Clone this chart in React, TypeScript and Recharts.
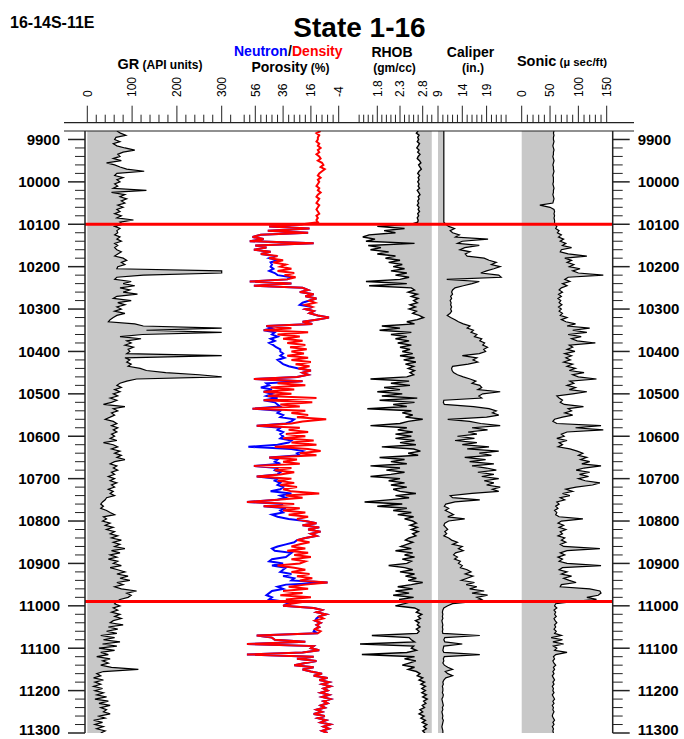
import { ComposedChart, Area, Line, XAxis, YAxis, ReferenceLine } from 'recharts';

const FONT = '"Liberation Sans", Arial, Helvetica, sans-serif';

// depth grid (ft), 5 ft sampling from 9880 to 11300
const TOP_DEPTH = 9880;
const BASE_DEPTH = 11300;
const STEP = 5;
const DEPTHS = Array.from({ length: (BASE_DEPTH - TOP_DEPTH) / STEP + 1 }, (_, i) => TOP_DEPTH + i * STEP);

// gamma ray, API units
const GR = [
  66, 74, 86, 64, // 9880
  61, 73, 58, 66, 84, 106, 80, 68, 73, 58, 76, 43, 61, 73, 88, 127, 66, 61, 80, 66, // 9900
  73, 61, 68, 58, 132, 54, 84, 73, 88, 76, 84, 68, 80, 66, 73, 61, 76, 66, 103, 73, // 10000
  80, 61, 73, 66, 68, 61, 73, 66, 76, 61, 68, 61, 66, 76, 68, 61, 80, 88, 76, 84, // 10100
  68, 66, 300, 300, 125, 66, 61, 98, 80, 106, 73, 95, 80, 112, 66, 58, 98, 68, 84, 66, // 10200
  76, 61, 84, 66, 58, 51, 47, 106, 125, 300, 132, 300, 123, 73, 120, 88, 98, 84, 103, 91, // 10300
  95, 88, 300, 84, 95, 88, 98, 91, 118, 132, 175, 250, 300, 110, 88, 73, 66, 76, 61, 73, // 10400
  58, 68, 51, 66, 54, 36, 84, 58, 68, 54, 61, 51, 40, 58, 66, 54, 68, 58, 66, 54, // 10500
  61, 51, 66, 36, 58, 68, 54, 73, 61, 76, 66, 84, 61, 51, 66, 58, 68, 54, 61, 47, // 10600
  61, 51, 66, 54, 61, 47, 58, 51, 61, 43, 40, 34, 30, 36, 30, 43, 51, 61, 36, 43, // 10700
  34, 51, 40, 58, 43, 61, 51, 68, 54, 76, 58, 73, 61, 84, 54, 73, 51, 66, 47, 68, // 10800
  58, 76, 51, 68, 84, 66, 91, 73, 95, 66, 80, 61, 76, 110, 88, 98, 91, 73, 66, 61, // 10900
  73, 58, 68, 54, 73, 61, 76, 58, 51, 80, 47, 68, 43, 66, 30, 61, 36, 73, 34, 66, // 11000
  26, 61, 30, 47, 21, 51, 34, 47, 30, 54, 114, 36, 21, 30, 14, 36, 17, 30, 14, 34, // 11100
  17, 36, 21, 43, 17, 47, 26, 51, 30, 43, 36, 51, 26, 40, 14, 34, 17, 36, 21, 40, // 11200
  30, // 11300
];

// neutron porosity, %
const NPHI = [
  null, null, null, null, // 9880
  null, null, null, null, null, null, null, null, null, null, null, null, null, null, null, null, null, null, null, null, // 9900
  null, null, null, null, null, null, null, null, null, null, null, null, null, null, null, null, null, null, null, null, // 10000
  22, 46, 17, 47, 18, 52, 58, 50, 60, 14, 56, 48, 57, 45, 52, 42, 46, 40, 45, 44, // 10100
  45, 43, 46, 42, 40, 30, 33, 60, 30, 57, 22, 18, 24, 14, 20, 12, 17, 22, 24, 15, // 10200
  20, 14, 17, 11, 3, 12, 22, 15, 48, 44, 50, 42, 44, 40, 45, 42, 46, 43, 41, 38, // 10300
  38, 36, 38, 35, 40, 38, 36, 32, 25, 16, 22, 18, 26, 57, 22, 48, 46, 52, 44, 50, // 10400
  44, 48, 40, 50, 42, 40, 38, 58, 38, 40, 36, 38, 28, 30, 34, 55, 38, 40, 36, 38, // 10500
  36, 38, 30, 32, 40, 61, 30, 22, 26, 24, 46, 40, 42, 38, 57, 40, 42, 38, 40, 55, // 10600
  40, 42, 38, 40, 36, 38, 45, 30, 38, 34, 40, 62, 36, 50, 34, 38, 36, 44, 40, 32, // 10700
  20, 12, 22, 10, 18, 9, 16, 12, 20, 26, 28, 34, 40, 44, 42, 30, 32, 34, 44, 46, // 10800
  36, 44, 34, 36, 38, 30, 36, 28, 30, 4, 34, 40, 36, 44, 46, 48, 44, 46, 36, 32, // 10900
  36, 14, 8, 12, 5, 10, 12, 13, 9, 12, 10, 13, 14, 11, 55, 44, 42, 20, 62, 14, // 11000
  16, 10, 22, 62, 14, 26, 12, 20, 28, 14, 22, 16, 8, 14, 4, 10, 3, 8, 2, 7, // 11100
  4, 9, 3, 8, 2, 7, 4, 9, 6, 12, 8, 14, 6, 11, 5, 9, 2, 7, 3, 8, // 11200
  4, // 11300
];

// density porosity, %
const DPHI = [
  9, 12, 10, 11, // 9880
  11, 12, 10, 11, 9, 11, 10, 12, 10, 9, 11, 8, 7, 9, 6, 8, 10, 11, 9, 11, // 9900
  10, 11, 12, 10, 11, 9, 11, 12, 10, 11, 12, 10, 11, 12, 11, 10, 12, 11, 12, 11, // 10000
  22, 46, 17, 47, 18, 52, 58, 50, 60, 14, 56, 48, 57, 45, 52, 40, 46, 36, 43, 34, // 10100
  38, 30, 40, 28, 35, 27, 33, 60, 30, 57, 22, 18, 24, 14, 20, 12, 17, 13, 20, 15, // 10200
  20, 14, 17, 11, 3, 12, 22, 15, 48, 30, 50, 18, 40, 24, 36, 22, 33, 20, 31, 19, // 10300
  30, 21, 33, 18, 30, 16, 27, 17, 25, 16, 22, 18, 26, 57, 22, 40, 20, 45, 28, 50, // 10400
  30, 47, 12, 50, 15, 38, 24, 58, 20, 30, 18, 26, 5, 22, 30, 55, 24, 32, 18, 34, // 10500
  20, 36, 14, 30, 12, 42, 18, 9, 24, 12, 46, 26, 36, 24, 57, 30, 42, 28, 38, 55, // 10600
  30, 40, 28, 38, 26, 36, 30, 10, 34, 22, 40, 62, 28, 50, 24, 36, 20, 32, 18, 26, // 10700
  20, 12, 22, 10, 18, 9, 16, 12, 20, 26, 17, 24, 30, 20, 33, 18, 28, 16, 30, 20, // 10800
  24, 40, 28, 20, 30, 17, 26, 15, 24, 4, 20, 32, 18, 36, 22, 38, 16, 34, 20, 30, // 10900
  36, 14, 8, 12, 5, 10, 7, 13, 9, 12, 10, 13, 9, 11, 55, 44, 42, 20, 62, 14, // 11000
  16, 10, 22, 62, 14, 26, 12, 20, 28, 14, 22, 16, 8, 14, 4, 10, 3, 8, 2, 7, // 11100
  4, 9, 3, 8, 2, 7, 4, 9, 6, 12, 8, 14, 6, 11, 5, 9, 2, 7, 3, 8, // 11200
  4, // 11300
];

// bulk density, gm/cc
const RHOB = [
  2.70, 2.66, 2.72, 2.69, // 9880
  2.71, 2.68, 2.73, 2.70, 2.67, 2.72, 2.69, 2.74, 2.70, 2.68, 2.73, 2.76, 2.71, 2.74, 2.77, 2.72, 2.69, 2.73, 2.70, 2.72, // 9900
  2.69, 2.72, 2.70, 2.73, 2.68, 2.71, 2.74, 2.70, 2.72, 2.69, 2.71, 2.68, 2.72, 2.70, 2.73, 2.69, 2.71, 2.68, 2.70, 2.69, // 10000
  2.55, 1.80, 2.40, 1.95, 2.20, 1.62, 1.48, 1.75, 1.55, 2.62, 1.60, 1.88, 1.65, 2.05, 1.80, 2.20, 1.98, 2.30, 2.05, 2.35, // 10100
  2.15, 2.40, 2.10, 2.45, 2.20, 2.50, 2.30, 1.55, 2.45, 1.62, 2.55, 2.62, 2.48, 2.68, 2.55, 2.70, 2.60, 2.68, 2.52, 2.64, // 10200
  2.50, 2.66, 2.58, 2.72, 2.82, 2.68, 2.45, 2.62, 1.90, 2.30, 1.85, 2.55, 2.10, 2.45, 2.20, 2.50, 2.25, 2.55, 2.30, 2.52, // 10300
  2.35, 2.58, 2.30, 2.62, 2.38, 2.65, 2.42, 2.60, 2.48, 2.62, 2.52, 2.60, 2.45, 1.65, 2.50, 2.10, 2.52, 1.95, 2.30, 1.80, // 10400
  2.35, 1.90, 2.68, 1.85, 2.62, 2.15, 2.45, 1.58, 2.55, 2.35, 2.58, 2.42, 2.80, 2.48, 2.30, 1.65, 2.45, 2.25, 2.58, 2.20, // 10500
  2.55, 2.20, 2.62, 2.30, 2.65, 1.90, 2.60, 2.75, 2.48, 2.70, 1.85, 2.40, 2.10, 2.45, 1.65, 2.30, 2.00, 2.40, 2.10, 1.65, // 10600
  2.30, 2.05, 2.40, 2.10, 2.45, 2.15, 2.30, 2.65, 2.20, 2.50, 2.05, 1.52, 2.35, 1.80, 2.45, 2.15, 2.55, 2.25, 2.60, 2.40, // 10700
  2.58, 2.66, 2.52, 2.68, 2.55, 2.70, 2.58, 2.65, 2.50, 2.42, 2.58, 2.45, 2.32, 2.55, 2.20, 2.58, 2.40, 2.62, 2.35, 2.55, // 10800
  2.45, 2.05, 2.40, 2.58, 2.30, 2.62, 2.42, 2.66, 2.48, 2.80, 2.55, 2.25, 2.58, 2.20, 2.50, 2.15, 2.60, 2.28, 2.55, 2.40, // 10900
  2.20, 2.62, 2.72, 2.66, 2.78, 2.70, 2.75, 2.64, 2.72, 2.68, 2.74, 2.66, 2.72, 2.68, 1.68, 2.50, 2.55, 2.62, 1.42, 2.60, // 11000
  2.55, 2.66, 2.45, 1.46, 2.62, 2.40, 2.65, 2.50, 2.35, 2.62, 2.48, 2.66, 2.74, 2.68, 2.80, 2.72, 2.84, 2.76, 2.86, 2.78, // 11100
  2.86, 2.78, 2.88, 2.80, 2.90, 2.82, 2.87, 2.79, 2.84, 2.74, 2.80, 2.72, 2.83, 2.76, 2.86, 2.79, 2.89, 2.82, 2.88, 2.80, // 11200
  2.85, // 11300
];

// caliper, inches
const CALIPER = [
  10.2, 10.2, 10.2, 10.2, // 9880
  10.2, 10.2, 10.2, 10.2, 10.2, 10.2, 10.2, 10.2, 10.2, 10.2, 10.2, 10.2, 10.2, 10.2, 10.2, 10.2, 10.2, 10.2, 10.2, 10.2, // 9900
  10.2, 10.2, 10.2, 10.2, 10.2, 10.2, 10.2, 10.2, 10.2, 10.2, 10.2, 10.2, 10.2, 10.2, 10.2, 10.2, 10.2, 10.2, 10.2, 10.2, // 10000
  10.6, 11.2, 12.4, 11.5, 12.0, 13.4, 12.6, 19.3, 14.0, 13.0, 17.5, 14.5, 13.5, 15.6, 14.6, 15.0, 18.5, 19.5, 21.0, 20.0, // 10100
  21.8, 20.5, 19.0, 17.8, 21.5, 22.0, 10.8, 17.5, 16.0, 14.2, 12.5, 12.0, 11.8, 12.0, 11.6, 11.8, 11.5, 11.7, 11.6, 11.8, // 10200
  11.6, 11.8, 11.5, 10.9, 11.6, 12.5, 13.2, 14.2, 15.6, 15.0, 16.3, 15.8, 17.0, 16.5, 18.0, 17.6, 18.6, 18.2, 19.2, 18.4, // 10300
  18.8, 17.5, 14.0, 17.0, 16.2, 17.2, 15.2, 12.0, 11.8, 11.9, 12.2, 13.0, 14.2, 15.6, 16.8, 16.0, 17.6, 18.0, 17.2, 21.8, // 10400
  18.2, 17.4, 18.0, 10.2, 10.1, 10.3, 16.3, 19.5, 21.0, 20.2, 21.5, 19.0, 11.0, 15.5, 17.8, 21.8, 16.0, 19.2, 15.2, 17.0, // 10500
  13.0, 16.5, 12.5, 17.0, 14.0, 19.5, 15.0, 21.5, 17.5, 20.0, 14.5, 18.8, 15.5, 20.5, 16.0, 19.0, 21.0, 17.2, 20.5, 18.0, // 10600
  21.5, 18.5, 20.5, 19.0, 21.8, 20.2, 21.5, 16.0, 11.5, 12.0, 17.6, 12.5, 10.6, 10.3, 11.2, 10.5, 11.4, 12.2, 11.0, 14.5, // 10700
  11.2, 10.4, 10.2, 10.6, 11.0, 10.4, 10.8, 10.2, 11.2, 11.8, 13.0, 12.0, 14.0, 13.2, 14.2, 12.6, 12.2, 13.0, 12.4, 13.6, // 10800
  13.2, 14.0, 13.6, 15.0, 15.8, 14.6, 16.2, 15.0, 13.8, 16.5, 14.8, 17.0, 15.5, 18.5, 16.0, 19.2, 17.0, 18.0, 16.2, 12.0, // 10900
  11.0, 10.2, 10.0, 9.9, 10.0, 9.9, 10.0, 9.8, 9.9, 10.0, 9.9, 10.0, 9.9, 10.0, 17.6, 10.4, 10.2, 10.4, 14.0, 10.2, // 11000
  10.1, 10.0, 10.2, 17.6, 10.3, 10.1, 10.2, 10.0, 10.3, 11.0, 12.0, 10.5, 11.0, 12.0, 10.6, 10.2, 10.0, 10.1, 9.9, 10.0, // 11100
  10.0, 9.9, 10.1, 10.0, 9.8, 9.9, 10.0, 10.1, 9.9, 10.0, 9.8, 9.9, 10.0, 9.9, 10.1, 10.0, 9.9, 9.8, 9.9, 10.0, // 11200
  10.0, // 11300
];

// sonic travel time, micro sec/ft
const SONIC = [
  57, 56, 57, 56, // 9880
  56, 57, 56, 55, 56, 57, 56, 56, 55, 56, 57, 56, 55, 56, 56, 57, 56, 55, 56, 56, // 9900
  56, 55, 56, 57, 56, 56, 55, 56, 57, 56, 55, 32, 50, 57, 58, 57, 58, 57, 58, 58, // 10000
  58, 62, 60, 66, 63, 70, 65, 74, 68, 78, 72, 88, 70, 68, 82, 115, 76, 88, 80, 92, // 10100
  84, 103, 90, 100, 144, 82, 76, 85, 72, 80, 70, 66, 72, 65, 70, 64, 69, 66, 71, 65, // 10200
  70, 66, 72, 68, 80, 70, 78, 95, 80, 120, 90, 115, 82, 105, 88, 98, 130, 84, 90, 80, // 10300
  94, 76, 88, 78, 86, 74, 90, 80, 95, 84, 110, 90, 100, 132, 85, 92, 80, 95, 84, 115, // 10400
  90, 62, 66, 72, 68, 75, 109, 82, 88, 76, 90, 72, 58, 55, 62, 140, 95, 144, 80, 70, // 10500
  75, 62, 80, 66, 72, 64, 85, 98, 108, 100, 115, 104, 120, 106, 140, 110, 96, 120, 102, 118, // 10600
  100, 112, 138, 125, 96, 78, 90, 72, 85, 68, 76, 62, 66, 60, 64, 58, 62, 60, 66, 108, // 10700
  70, 64, 74, 66, 78, 68, 72, 64, 76, 70, 78, 68, 74, 138, 80, 68, 76, 64, 72, 66, // 10800
  80, 140, 72, 66, 80, 70, 88, 74, 84, 96, 70, 68, 120, 138, 140, 135, 115, 132, 90, 60, // 10900
  58, 62, 57, 60, 58, 61, 57, 59, 62, 58, 60, 57, 61, 58, 70, 52, 72, 55, 74, 56, // 11000
  62, 58, 80, 60, 56, 58, 55, 57, 60, 56, 58, 55, 57, 54, 56, 58, 55, 57, 54, 56, // 11100
  55, 57, 54, 56, 58, 55, 57, 54, 56, 55, 57, 55, 54, 56, 58, 55, 57, 54, 56, 55, // 11200
  56, // 11300
];

// zone boundaries (red lines)
const ZONE_TOPS = [10100, 10990];

// header scales
const GR_TICKS = [0, 20, 40, 60, 80, 100, 120, 140, 160, 180, 200, 220, 240, 260, 280, 300, 320];
const GR_LABELS = [0, 100, 200, 300];
const POR_TICKS = [-4, 0, 4, 8, 12, 16, 20, 24, 28, 32, 36, 40, 44, 48, 52, 56, 60, 64];
const POR_LABELS = [56, 36, 16, -4];
const RHOB_TICKS = [1.4, 1.5, 1.6, 1.7, 1.8, 1.9, 2.0, 2.1, 2.2, 2.3, 2.4, 2.5, 2.6, 2.7, 2.8, 2.9, 3.0];
const RHOB_LABELS = [1.8, 2.3, 2.8];
const CAL_TICKS = [9, 10, 11, 12, 13, 14, 15, 16, 17, 18, 19, 20, 21, 22, 23];
const CAL_LABELS = [9, 14, 19];
const SONIC_TICKS = [0, 10, 20, 30, 40, 50, 60, 70, 80, 90, 100, 110, 120, 130, 140, 150];
const SONIC_LABELS = [0, 50, 100, 150];

const DEPTH_LABELS = [9900, 10000, 10100, 10200, 10300, 10400, 10500, 10600, 10700, 10800, 10900, 11000, 11100, 11200, 11300];
const DEPTH_TICKS = Array.from({ length: 71 }, (_, i) => 9900 + i * 20);

const rows = DEPTHS.map((depth, i) => ({
  depth,
  gr: GR[i],
  nphi: NPHI[i],
  dphi: DPHI[i],
  rhob: RHOB[i],
  cal: CALIPER[i],
  dt: SONIC[i],
}));

// page layout
const W = 684;
const H = 739;
const PLOT_LEFT = 85;
const PLOT_RIGHT = 612.7;
const PLOT_TOP = 131;
const PLOT_BOTTOM = 733;
const TICK_BASE = 122.7;
const LABEL_Y = 97;
const FILL = '#c8c8c8';
const TRACK_AXES = 5; // each header axis takes 1px of the top margin

// every track shares the full plot width; the domain places its scale where the log puts it
function trackDomain(v0: number, x0: number, v1: number, x1: number): [number, number] {
  const k = (v1 - v0) / (x1 - x0);
  const a = v0 + (PLOT_LEFT - x0) * k;
  const b = v0 + (PLOT_RIGHT - x0) * k;
  return [Math.min(a, b), Math.max(a, b)];
}

const GR_DOMAIN = trackDomain(0, 87.3, 300, 221.7);
const POR_DOMAIN = trackDomain(56, 255.3, -4, 338.7);
const RHOB_DOMAIN = trackDomain(1.8, 377.3, 2.8, 422.7);
const CAL_DOMAIN = trackDomain(9, 438, 19, 486.6);
const SONIC_DOMAIN = trackDomain(0, 521.7, 150, 606.7);

function headerTick(labels: number[]) {
  return (props: any) => {
    const { x, payload } = props;
    const v = payload.value;
    const major = labels.some((m) => Math.abs(m - v) < 1e-6);
    return (
      <g>
        <line x1={x} x2={x} y1={TICK_BASE} y2={TICK_BASE - (major ? 17 : 8)} stroke="#222" strokeWidth={1} />
        {major && (
          <text
            transform={`translate(${x},${LABEL_Y}) rotate(-90)`}
            dy="0.36em"
            fontSize={12}
            fontFamily={FONT}
            fill="#000"
          >
            {String(v)}
          </text>
        )}
      </g>
    );
  };
}

function depthTick(side: 'left' | 'right') {
  return (props: any) => {
    const { x, y, payload } = props;
    const v = payload.value;
    const major = DEPTH_LABELS.includes(v);
    const dir = side === 'left' ? -1 : 1;
    // the last label sits on the page edge; nudge it up so it stays whole
    const ty = Math.min(y, H - 9);
    return (
      <g>
        <line x1={x} x2={x + dir * (major ? 17 : 10)} y1={y} y2={y} stroke="#222" strokeWidth={major ? 1.5 : 1} />
        {major && (
          <text
            x={x + dir * 25}
            y={ty}
            dy="0.36em"
            textAnchor={side === 'left' ? 'end' : 'start'}
            fontSize={15}
            fontWeight="bold"
            fontFamily={FONT}
            fill="#000"
          >
            {v}
          </text>
        )}
      </g>
    );
  };
}

function trackAxis(id: string, domain: [number, number], ticks: number[], labels: number[], reversed = false) {
  return (
    <XAxis
      xAxisId={id}
      type="number"
      orientation="top"
      height={1}
      domain={domain}
      allowDataOverflow
      reversed={reversed}
      ticks={ticks}
      interval={0}
      tickSize={0}
      tickMargin={0}
      axisLine={false}
      tickLine={false}
      tick={headerTick(labels)}
    />
  );
}

function Headers() {
  const bold = { fontFamily: FONT, fontWeight: 'bold' as const, fill: '#000' };
  return (
    <svg width={W} height={H} style={{ position: 'absolute', left: 0, top: 0, pointerEvents: 'none' }}>
      <text x={10} y={28.3} fontSize={16} {...bold}>16-14S-11E</text>
      <text x={359.5} y={36.6} fontSize={28} textAnchor="middle" {...bold}>State 1-16</text>

      <text x={160} y={68.5} fontSize={14.5} textAnchor="middle" {...bold}>
        GR<tspan fontSize={12}> (API units)</tspan>
      </text>

      <text x={234} y={55.5} fontSize={14} {...bold} fill="#0000ff">Neutron</text>
      <text x={288} y={55.5} fontSize={14} {...bold}>/</text>
      <text x={292} y={55.5} fontSize={14} {...bold} fill="#ff0000">Density</text>
      <text x={290.5} y={71.5} fontSize={14} textAnchor="middle" {...bold}>
        Porosity<tspan fontSize={12}> (%)</tspan>
      </text>

      <text x={392} y={56.5} fontSize={14} textAnchor="middle" {...bold}>RHOB</text>
      <text x={394.5} y={72} fontSize={12} textAnchor="middle" {...bold}>(gm/cc)</text>

      <text x={470.5} y={56.5} fontSize={14} textAnchor="middle" {...bold}>Caliper</text>
      <text x={473} y={72} fontSize={12} textAnchor="middle" {...bold}>(in.)</text>

      <text x={562} y={66} fontSize={14.5} textAnchor="middle" {...bold}>
        Sonic<tspan fontSize={11.5}> (µ sec/ft)</tspan>
      </text>

      <line x1={64} x2={634} y1={TICK_BASE} y2={TICK_BASE} stroke="#222" strokeWidth={1.2} />
      <line x1={64} x2={634} y1={PLOT_TOP} y2={PLOT_TOP} stroke="#222" strokeWidth={1.2} />
    </svg>
  );
}

export default function App() {
  return (
    <div style={{ position: 'absolute', left: 0, top: 0, width: W, height: H, background: '#fff', overflow: 'hidden' }}>
      <ComposedChart
        width={W}
        height={H}
        layout="vertical"
        data={rows}
        margin={{ top: PLOT_TOP - TRACK_AXES, right: 0, bottom: H - PLOT_BOTTOM, left: 0 }}
      >
        {trackAxis('gr', GR_DOMAIN, GR_TICKS, GR_LABELS)}
        {trackAxis('por', POR_DOMAIN, POR_TICKS, POR_LABELS, true)}
        {trackAxis('rhob', RHOB_DOMAIN, RHOB_TICKS, RHOB_LABELS)}
        {trackAxis('cal', CAL_DOMAIN, CAL_TICKS, CAL_LABELS)}
        {trackAxis('dt', SONIC_DOMAIN, SONIC_TICKS, SONIC_LABELS)}

        <YAxis
          yAxisId="depth"
          type="number"
          dataKey="depth"
          orientation="left"
          width={PLOT_LEFT}
          domain={[TOP_DEPTH, BASE_DEPTH]}
          allowDataOverflow
          ticks={DEPTH_TICKS}
          interval={0}
          tickSize={0}
          tickMargin={0}
          tickLine={false}
          axisLine={{ stroke: '#222', strokeWidth: 1.5 }}
          tick={depthTick('left')}
        />
        <YAxis
          yAxisId="depthRight"
          type="number"
          dataKey="depth"
          orientation="right"
          width={W - PLOT_RIGHT}
          domain={[TOP_DEPTH, BASE_DEPTH]}
          allowDataOverflow
          ticks={DEPTH_TICKS}
          interval={0}
          tickSize={0}
          tickMargin={0}
          tickLine={false}
          axisLine={{ stroke: '#222', strokeWidth: 1.5 }}
          tick={depthTick('right')}
        />

        <Area
          type="linear"
          dataKey="gr"
          xAxisId="gr"
          yAxisId="depth"
          baseValue={0}
          stroke="#000"
          strokeWidth={1.2}
          fill={FILL}
          fillOpacity={1}
          dot={false}
          activeDot={false}
          isAnimationActive={false}
        />
        <Line
          type="linear"
          dataKey="nphi"
          xAxisId="por"
          yAxisId="depth"
          stroke="#0000ff"
          strokeWidth={2}
          dot={false}
          activeDot={false}
          isAnimationActive={false}
        />
        <Line
          type="linear"
          dataKey="dphi"
          xAxisId="por"
          yAxisId="depth"
          stroke="#ff0000"
          strokeWidth={2}
          dot={false}
          activeDot={false}
          isAnimationActive={false}
        />
        <Area
          type="linear"
          dataKey="rhob"
          xAxisId="rhob"
          yAxisId="depth"
          baseValue={3.0}
          stroke="#000"
          strokeWidth={1.4}
          fill={FILL}
          fillOpacity={1}
          dot={false}
          activeDot={false}
          isAnimationActive={false}
        />
        <Area
          type="linear"
          dataKey="cal"
          xAxisId="cal"
          yAxisId="depth"
          baseValue={9}
          stroke="#000"
          strokeWidth={1.2}
          fill={FILL}
          fillOpacity={1}
          dot={false}
          activeDot={false}
          isAnimationActive={false}
        />
        <Area
          type="linear"
          dataKey="dt"
          xAxisId="dt"
          yAxisId="depth"
          baseValue={0}
          stroke="#000"
          strokeWidth={1.2}
          fill={FILL}
          fillOpacity={1}
          dot={false}
          activeDot={false}
          isAnimationActive={false}
        />

        {ZONE_TOPS.map((d) => (
          <ReferenceLine key={d} y={d} xAxisId="gr" yAxisId="depth" stroke="#ff0000" strokeWidth={3} />
        ))}
      </ComposedChart>
      <Headers />
    </div>
  );
}
